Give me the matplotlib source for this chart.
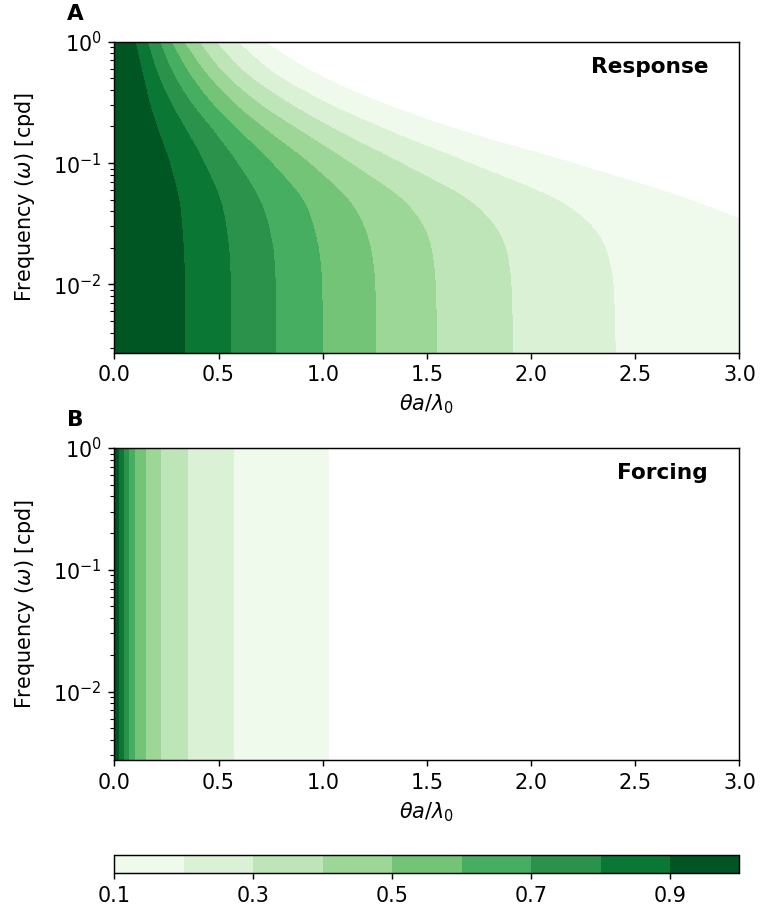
import numpy as np
import matplotlib
matplotlib.use("Agg")
import matplotlib.pyplot as plt

plt.rcParams["font.size"] = 11.5

# contour levels (filled bands 0.1 .. 1.0)
levels = np.arange(0.1, 1.01, 0.1)
edge_levels = [0.9, 0.8, 0.7, 0.6, 0.5, 0.4, 0.3, 0.2, 0.1]

resp_logfreq = [0.0, -0.256, -0.501, -0.754, -0.999, -1.375, -1.6, -1.75, -2.0, -2.6]
resp_edges = [
    [0.099, 0.158, 0.216, 0.271, 0.331, 0.403, 0.483, 0.588, 0.715],
    [0.134, 0.205, 0.279, 0.356, 0.437, 0.521, 0.627, 0.762, 0.956],
    [0.167, 0.269, 0.366, 0.463, 0.569, 0.685, 0.830, 1.013, 1.275],
    [0.215, 0.352, 0.482, 0.608, 0.747, 0.907, 1.091, 1.342, 1.700],
    [0.264, 0.430, 0.588, 0.753, 0.932, 1.130, 1.372, 1.700, 2.193],
    [0.316, 0.519, 0.714, 0.925, 1.152, 1.422, 1.748, 2.190, 2.870],
    [0.327, 0.542, 0.750, 0.966, 1.213, 1.502, 1.852, 2.325, 3.150],
    [0.333, 0.551, 0.764, 0.983, 1.234, 1.525, 1.884, 2.365, 3.200],
    [0.337, 0.557, 0.772, 0.995, 1.250, 1.540, 1.903, 2.393, 3.240],
    [0.339, 0.560, 0.776, 1.000, 1.256, 1.548, 1.913, 2.405, 3.260],
]

# Panel B (Forcing): level edges, same at every frequency
forc_logfreq = [0.0, -2.6]
forc_edges = [0.022, 0.047, 0.072, 0.099, 0.152, 0.224, 0.354, 0.575, 1.026]

x = np.linspace(0, 3.5, 1401)


def pchip(xk, yk, xq):
    # monotone cubic through the read rows, so the edges bend smoothly
    xk = np.asarray(xk, float)
    yk = np.asarray(yk, float)
    h = np.diff(xk)
    d = np.diff(yk) / h
    m = np.zeros_like(yk)
    m[0], m[-1] = d[0], d[-1]
    for i in range(1, len(xk) - 1):
        if d[i - 1] * d[i] > 0:
            w1 = 2 * h[i] + h[i - 1]
            w2 = h[i] + 2 * h[i - 1]
            m[i] = (w1 + w2) / (w1 / d[i - 1] + w2 / d[i])
    i = np.clip(np.searchsorted(xk, xq) - 1, 0, len(xk) - 2)
    t = (xq - xk[i]) / h[i]
    h00 = 2 * t**3 - 3 * t**2 + 1
    h10 = t**3 - 2 * t**2 + t
    h01 = -2 * t**3 + 3 * t**2
    h11 = t**3 - t**2
    return h00 * yk[i] + h10 * h[i] * m[i] + h01 * yk[i + 1] + h11 * h[i] * m[i + 1]


def row_from_edges(edges):
    xp = [0.0] + list(edges) + [edges[-1] + 1.0]
    fp = [1.0] + edge_levels + [0.0]
    return np.interp(x, xp, fp)


def field(logfreq, edges):
    lf = np.asarray(logfreq)[::-1]
    ed = np.asarray(edges)[::-1]
    rows = np.linspace(lf[0], lf[-1], 400)
    cols = [pchip(lf, ed[:, k], rows) for k in range(ed.shape[1])]
    z = np.array([row_from_edges([c[j] for c in cols]) for j in range(len(rows))])
    return 10 ** rows, z


freq_a, z_a = field(resp_logfreq, resp_edges)
freq_b, z_b = field(forc_logfreq, [forc_edges] * len(forc_logfreq))

fig = plt.figure(figsize=(5.847, 6.993), dpi=130)
ax_a = fig.add_axes([0.1504, 0.612, 0.8224, 0.3421])
ax_b = fig.add_axes([0.1504, 0.1639, 0.8224, 0.3432])
cax = fig.add_axes([0.1504, 0.0396, 0.8224, 0.0198])

cs = ax_a.contourf(x, freq_a, z_a, levels=levels, cmap="Greens")
ax_b.contourf(x, freq_b, z_b, levels=levels, cmap="Greens")

for ax, name in [(ax_a, "Response"), (ax_b, "Forcing")]:
    ax.set_yscale("log")
    ax.set_xlim(0, 3)
    ax.set_ylim(1 / 365, 1)
    ax.set_xticks(np.arange(0, 3.01, 0.5))
    ax.set_xlabel(r"$\theta a/\lambda_0$")
    ax.set_ylabel(r"Frequency ($\omega$) [cpd]", labelpad=9)
    ax.text(0.95, 0.92, name, transform=ax.transAxes, ha="right", va="center",
            fontweight="bold", fontsize=12)

fig.text(75 / 760, 1 - 14 / 909, "A", fontweight="bold", fontsize=12, ha="center", va="center")
fig.text(75 / 760, 1 - 420 / 909, "B", fontweight="bold", fontsize=12, ha="center", va="center")

cb = fig.colorbar(cs, cax=cax, orientation="horizontal", ticks=[0.1, 0.3, 0.5, 0.7, 0.9])

fig.savefig("out.png", dpi=130)
